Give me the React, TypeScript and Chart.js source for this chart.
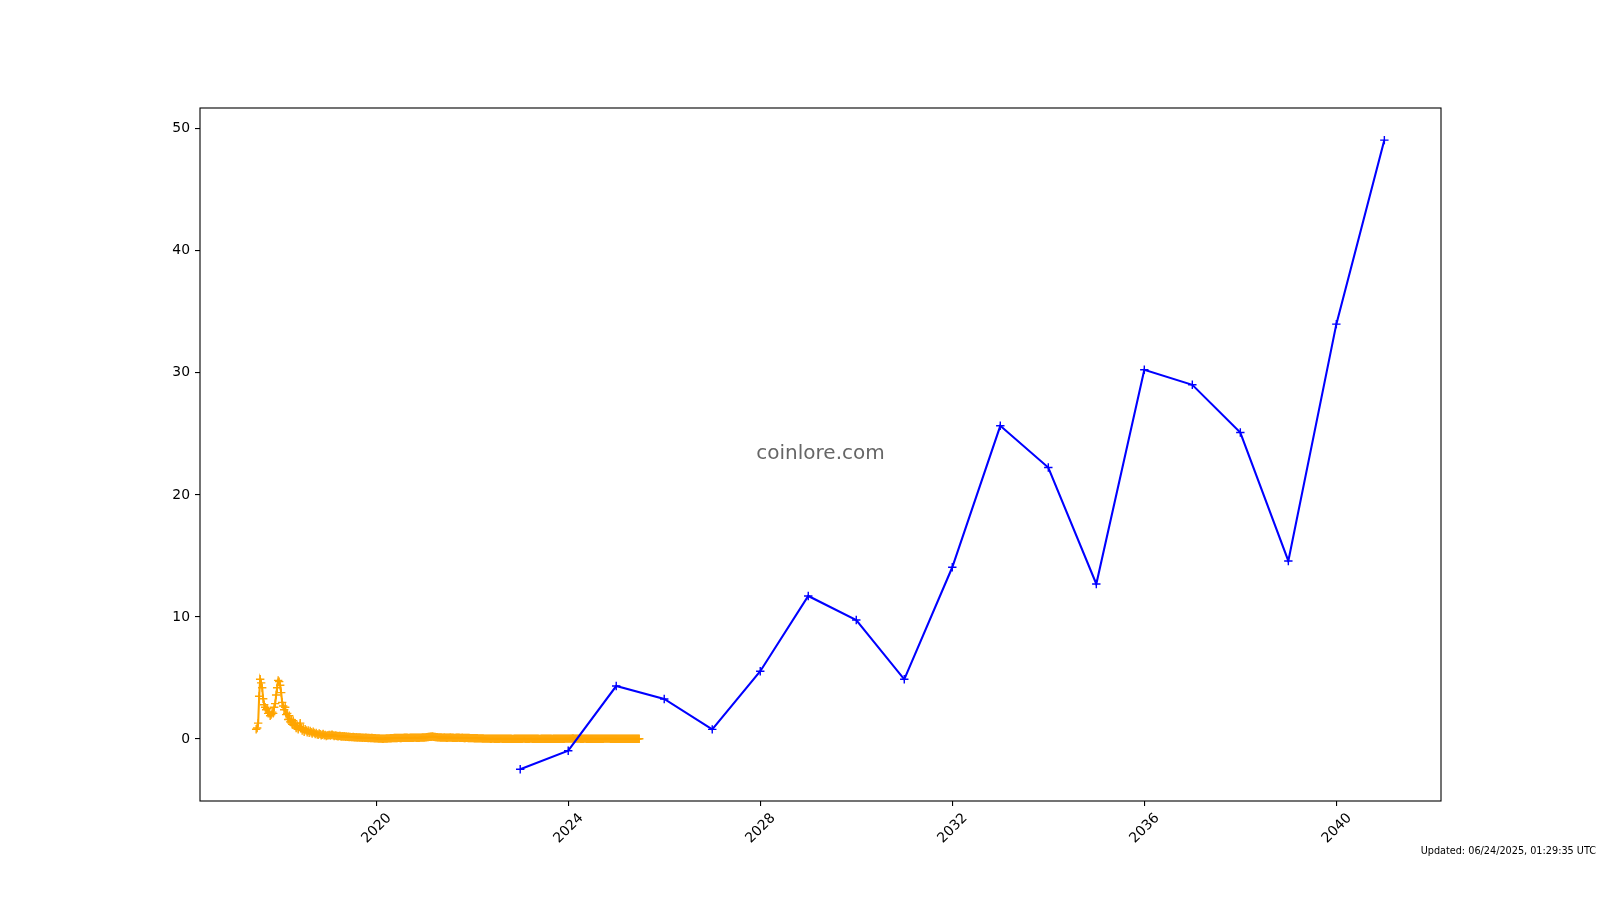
import React, { useEffect, useRef } from "react";
import { Chart, registerables } from "chart.js";

Chart.register(...registerables);

// Forecast series (blue), one point per year
const forecastYears = [2023, 2024, 2025, 2026, 2027, 2028, 2029, 2030, 2031, 2032, 2033, 2034, 2035, 2036, 2037, 2038, 2039, 2040, 2041];
const forecastValues = [-2.48, -0.96, 4.34, 3.28, 0.79, 5.55, 11.72, 9.75, 4.89, 14.07, 25.66, 22.24, 12.7, 30.25, 29.02, 25.11, 14.59, 33.99, 49.07];

// Historical price series (orange), sampled roughly weekly from mid-2017
const historyStartYear = 2017.5;
const historyStepYears = 1 / 48;
const history2017 = [0.8, 0.9, 1.3, 3.5, 4.9, 4.6, 4.2, 3.3, 2.8, 2.6, 2.4, 2.5, 2.1, 2.2, 1.9, 2.0, 2.2, 2.1, 2.6, 2.9, 3.6, 4.2, 4.8, 4.7];
const history2018 = [4.4, 3.8, 3.0, 2.7, 2.4, 2.6, 2.0, 2.1, 1.6, 1.9, 1.4, 1.6, 1.2, 1.5, 1.1, 1.3, 0.9, 1.1, 0.8, 1.0, 1.3, 0.9, 0.7, 0.9, 0.6, 0.8, 0.7, 0.55, 0.7, 0.5, 0.65, 0.55, 0.45, 0.6, 0.5, 0.4, 0.5, 0.38, 0.35, 0.45, 0.4, 0.3, 0.35, 0.42, 0.3, 0.34, 0.25, 0.3];
const history2019 = [0.3, 0.34, 0.28, 0.33, 0.36, 0.3, 0.25, 0.3, 0.27, 0.25, 0.22, 0.26, 0.24, 0.2, 0.23, 0.21, 0.22, 0.18, 0.2, 0.17, 0.19, 0.16, 0.17, 0.15, 0.15, 0.16, 0.14, 0.13, 0.14, 0.12, 0.13, 0.12, 0.12, 0.11, 0.1, 0.11, 0.09, 0.1, 0.1, 0.09, 0.08, 0.09, 0.07, 0.08, 0.08, 0.07, 0.06, 0.06];
const history2020 = [0.05, 0.05, 0.04, 0.04, 0.03, 0.03, 0.02, 0.02, 0.03, 0.03, 0.04, 0.04, 0.05, 0.05, 0.06, 0.06, 0.07, 0.07, 0.08, 0.08, 0.08, 0.08, 0.09, 0.09, 0.08, 0.08, 0.09, 0.09, 0.1, 0.1, 0.1, 0.1, 0.09, 0.09, 0.1, 0.1, 0.1, 0.1, 0.11, 0.11, 0.1, 0.1, 0.1, 0.1, 0.11, 0.11, 0.12, 0.12];
const history2021 = [0.12, 0.13, 0.14, 0.15, 0.16, 0.17, 0.18, 0.19, 0.2, 0.19, 0.17, 0.16, 0.15, 0.14, 0.13, 0.13, 0.12, 0.12, 0.11, 0.11, 0.12, 0.11, 0.1, 0.1, 0.11, 0.11, 0.12, 0.11, 0.1, 0.1, 0.09, 0.09, 0.1, 0.1, 0.11, 0.1, 0.09, 0.09, 0.1, 0.09, 0.08, 0.08, 0.09, 0.09, 0.08, 0.08, 0.07, 0.07];
const history2022 = [0.07, 0.07, 0.06, 0.06, 0.06, 0.06, 0.05, 0.05, 0.05, 0.05, 0.04, 0.04, 0.03, 0.03, 0.03, 0.03, 0.03, 0.03, 0.02, 0.02, 0.03, 0.03, 0.02, 0.02, 0.02, 0.02, 0.02, 0.02, 0.03, 0.03, 0.02, 0.02, 0.02, 0.02, 0.02, 0.02, 0.02, 0.02, 0.02, 0.02, 0.01, 0.01, 0.02, 0.02, 0.02, 0.02, 0.02, 0.02];
const history2023 = [0.02, 0.02, 0.02, 0.03, 0.03, 0.02, 0.02, 0.02, 0.02, 0.02, 0.03, 0.03, 0.02, 0.02, 0.02, 0.02, 0.02, 0.02, 0.02, 0.01, 0.01, 0.02, 0.02, 0.02, 0.02, 0.02, 0.02, 0.02, 0.02, 0.02, 0.02, 0.02, 0.01, 0.02, 0.02, 0.02, 0.02, 0.02, 0.02, 0.02, 0.02, 0.02, 0.02, 0.02, 0.02, 0.03, 0.03, 0.03];
const history2024 = [0.03, 0.03, 0.03, 0.03, 0.04, 0.04, 0.03, 0.03, 0.03, 0.03, 0.03, 0.03, 0.02, 0.02, 0.02, 0.02, 0.03, 0.03, 0.02, 0.02, 0.02, 0.02, 0.02, 0.02, 0.02, 0.02, 0.02, 0.02, 0.02, 0.02, 0.02, 0.02, 0.02, 0.02, 0.02, 0.02, 0.03, 0.03, 0.03, 0.03, 0.03, 0.03, 0.02, 0.02, 0.02, 0.02, 0.02, 0.02];
const history2025 = [0.02, 0.02, 0.02, 0.02, 0.02, 0.02, 0.02, 0.02, 0.02, 0.02, 0.02, 0.02, 0.02, 0.02, 0.02, 0.02, 0.02, 0.02, 0.02, 0.02, 0.02, 0.02, 0.02, 0.02];

const xTickValues = [2020, 2024, 2028, 2032, 2036, 2040];
const yTickValues = [0, 10, 20, 30, 40, 50];
const xMin = 2016.33;
const xMax = 2042.18;
const yMin = -5.08;
const yMax = 51.7;

const watermarkText = "coinlore.com";
const updatedText = "Updated: 06/24/2025, 01:29:35 UTC";

const FONT = '"DejaVu Sans", "Liberation Sans", sans-serif';

const decorPlugin = {
  id: "decor",
  afterDraw(chart: any) {
    const { ctx, chartArea } = chart;
    const { left, top, right, bottom } = chartArea;
    ctx.save();
    ctx.strokeStyle = "#000";
    ctx.lineWidth = 1.1;
    ctx.strokeRect(left, top, right - left, bottom - top);
    ctx.font = `20px ${FONT}`;
    ctx.fillStyle = "#666666";
    ctx.textAlign = "center";
    ctx.textBaseline = "middle";
    ctx.fillText(watermarkText, (left + right) / 2, (top + bottom) / 2 - 1);
    ctx.font = `9.7px ${FONT}`;
    ctx.fillStyle = "#000";
    ctx.textAlign = "right";
    ctx.textBaseline = "alphabetic";
    ctx.fillText(updatedText, 1596, 854);
    ctx.restore();
  },
};

export default function App() {
  const ref = useRef<HTMLCanvasElement | null>(null);

  useEffect(() => {
    if (!ref.current) return;
    const historyValues = [
      ...history2017, ...history2018, ...history2019, ...history2020, ...history2021,
      ...history2022, ...history2023, ...history2024, ...history2025,
    ];
    const historyData = historyValues.map((v, i) => ({ x: historyStartYear + i * historyStepYears, y: v }));
    const forecastData = forecastYears.map((yr, i) => ({ x: yr, y: forecastValues[i] }));

    const chart = new Chart(ref.current, {
      type: "line",
      data: {
        datasets: [
          {
            label: "history",
            data: historyData,
            borderColor: "#ffa500",
            backgroundColor: "#ffa500",
            borderWidth: 2.08,
            pointStyle: "cross",
            pointRadius: 4.2,
            pointBorderWidth: 1.4,
            pointBorderColor: "#ffa500",
            tension: 0,
            fill: false,
            order: 2,
          },
          {
            label: "forecast",
            data: forecastData,
            borderColor: "#0000ff",
            backgroundColor: "#0000ff",
            borderWidth: 2.08,
            pointStyle: "cross",
            pointRadius: 4.2,
            pointBorderWidth: 1.4,
            pointBorderColor: "#0000ff",
            tension: 0,
            fill: false,
            order: 1,
          },
        ],
      },
      options: {
        animation: false,
        responsive: false,
        maintainAspectRatio: false,
        layout: { padding: { left: 0, top: 108, right: 159, bottom: 0 } },
        plugins: { legend: { display: false }, tooltip: { enabled: false } },
        scales: {
          x: {
            type: "linear",
            min: xMin,
            max: xMax,
            afterBuildTicks: (scale: any) => {
              scale.ticks = xTickValues.map((v) => ({ value: v }));
            },
            afterFit: (scale: any) => {
              scale.height = 99;
            },
            border: { display: false },
            grid: { drawOnChartArea: false, drawTicks: true, tickLength: 5, color: "#000", lineWidth: 1.1 },
            ticks: {
              color: "#000",
              font: { family: FONT, size: 13.9 },
              minRotation: 45,
              maxRotation: 45,
              padding: 4,
              labelOffset: 13,
              autoSkip: false,
              callback: (v: any) => String(v),
            },
          },
          y: {
            type: "linear",
            min: yMin,
            max: yMax,
            afterBuildTicks: (scale: any) => {
              scale.ticks = yTickValues.map((v) => ({ value: v }));
            },
            afterFit: (scale: any) => {
              scale.width = 200;
            },
            border: { display: false },
            grid: { drawOnChartArea: false, drawTicks: true, tickLength: 5, color: "#000", lineWidth: 1.1 },
            ticks: {
              color: "#000",
              font: { family: FONT, size: 13.9 },
              padding: 5,
              autoSkip: false,
              callback: (v: any) => String(v),
            },
          },
        },
      },
      plugins: [decorPlugin],
    });
    return () => chart.destroy();
  }, []);

  return (
    <div style={{ position: "fixed", left: 0, top: 0, width: 1600, height: 900, background: "#fff" }}>
      <canvas ref={ref} width={1600} height={900} style={{ width: 1600, height: 900, display: "block" }} />
    </div>
  );
}
